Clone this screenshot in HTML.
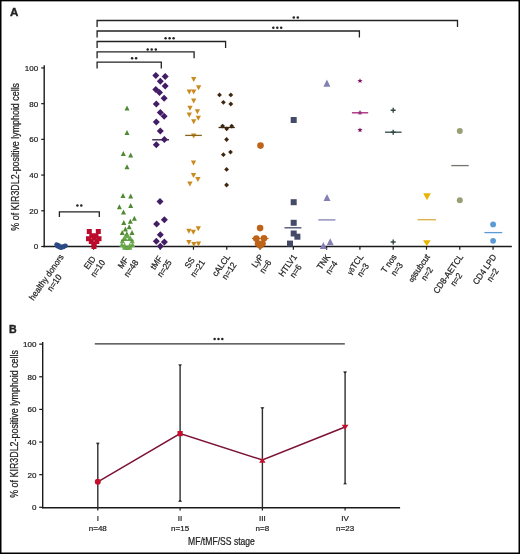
<!DOCTYPE html>
<html><head><meta charset="utf-8"><style>
html,body{margin:0;padding:0;background:#fff;}
svg{display:block;will-change:transform;}
text{font-family:"Liberation Sans",sans-serif;fill:#222;stroke:#222;stroke-width:0.22px;}
</style></head><body>
<svg width="520" height="554" viewBox="0 0 520 554">
<rect x="0" y="0" width="520" height="554" fill="#fff"/>
<path d="M44.2 65.2V247.15" stroke="#1a1a1a" stroke-width="1.4"/>
<path d="M43.5 246.5H511.8" stroke="#1a1a1a" stroke-width="1.4"/>
<path d="M41.2 246.5H44.2" stroke="#1a1a1a" stroke-width="1.2"/>
<text x="38.2" y="249.4" font-size="8" text-anchor="end" >0</text>
<path d="M41.2 210.79H44.2" stroke="#1a1a1a" stroke-width="1.2"/>
<text x="38.2" y="213.69" font-size="8" text-anchor="end" >20</text>
<path d="M41.2 175.08H44.2" stroke="#1a1a1a" stroke-width="1.2"/>
<text x="38.2" y="177.98" font-size="8" text-anchor="end" >40</text>
<path d="M41.2 139.37H44.2" stroke="#1a1a1a" stroke-width="1.2"/>
<text x="38.2" y="142.27" font-size="8" text-anchor="end" >60</text>
<path d="M41.2 103.66H44.2" stroke="#1a1a1a" stroke-width="1.2"/>
<text x="38.2" y="106.56" font-size="8" text-anchor="end" >80</text>
<path d="M41.2 67.95H44.2" stroke="#1a1a1a" stroke-width="1.2"/>
<text x="38.2" y="70.85" font-size="8" text-anchor="end" >100</text>
<text transform="translate(19.1,156.8) rotate(-90) scale(0.89,1)" font-size="10" text-anchor="middle">% of KIR3DL2-positive lymphoid cells</text>
<text x="10.1" y="15.8" font-size="11.6" font-weight="bold" style="stroke-width:0.35px">A</text>
<path d="M60.3 246.5V249.7" stroke="#1a1a1a" stroke-width="1.2"/>
<g transform="translate(58.9,253.2) rotate(-55.0) scale(0.93,1)">
<text x="-28.86" y="6.5" font-size="8.8" text-anchor="middle">healthy donors</text>
<text x="-28.86" y="16.3" font-size="8.8" text-anchor="middle" >n=10</text>
</g>
<path d="M93.59 246.5V249.7" stroke="#1a1a1a" stroke-width="1.2"/>
<g transform="translate(92.19,253.2) rotate(-55.0) scale(0.93,1)">
<text x="-9.91" y="6.5" font-size="8.8" text-anchor="middle">EID</text>
<text x="-9.91" y="16.3" font-size="8.8" text-anchor="middle" >n=10</text>
</g>
<path d="M126.88 246.5V249.7" stroke="#1a1a1a" stroke-width="1.2"/>
<g transform="translate(125.48,253.2) rotate(-55.0) scale(0.93,1)">
<text x="-9.91" y="6.5" font-size="8.8" text-anchor="middle">MF</text>
<text x="-9.91" y="16.3" font-size="8.8" text-anchor="middle" >n=48</text>
</g>
<path d="M160.17 246.5V249.7" stroke="#1a1a1a" stroke-width="1.2"/>
<g transform="translate(158.77,253.2) rotate(-55.0) scale(0.93,1)">
<text x="-9.91" y="6.5" font-size="8.8" text-anchor="middle">tMF</text>
<text x="-9.91" y="16.3" font-size="8.8" text-anchor="middle" >n=25</text>
</g>
<path d="M193.46 246.5V249.7" stroke="#1a1a1a" stroke-width="1.2"/>
<g transform="translate(192.06,253.2) rotate(-55.0) scale(0.93,1)">
<text x="-9.91" y="6.5" font-size="8.8" text-anchor="middle">SS</text>
<text x="-9.91" y="16.3" font-size="8.8" text-anchor="middle" >n=21</text>
</g>
<path d="M226.75 246.5V249.7" stroke="#1a1a1a" stroke-width="1.2"/>
<g transform="translate(225.35,253.2) rotate(-55.0) scale(0.93,1)">
<text x="-13.21" y="6.5" font-size="8.8" text-anchor="middle">cALCL</text>
<text x="-13.21" y="16.3" font-size="8.8" text-anchor="middle" >n=12</text>
</g>
<path d="M260.04 246.5V249.7" stroke="#1a1a1a" stroke-width="1.2"/>
<g transform="translate(258.64,253.2) rotate(-55.0) scale(0.93,1)">
<text x="-7.46" y="6.5" font-size="8.8" text-anchor="middle">LyP</text>
<text x="-7.46" y="16.3" font-size="8.8" text-anchor="middle" >n=6</text>
</g>
<path d="M293.33 246.5V249.7" stroke="#1a1a1a" stroke-width="1.2"/>
<g transform="translate(291.93,253.2) rotate(-55.0) scale(0.93,1)">
<text x="-13.37" y="6.5" font-size="8.8" text-anchor="middle">HTLV1</text>
<text x="-13.37" y="16.3" font-size="8.8" text-anchor="middle" >n=6</text>
</g>
<path d="M326.62 246.5V249.7" stroke="#1a1a1a" stroke-width="1.2"/>
<g transform="translate(325.22,253.2) rotate(-55.0) scale(0.93,1)">
<text x="-8.8" y="6.5" font-size="8.8" text-anchor="middle">TNK</text>
<text x="-8.8" y="16.3" font-size="8.8" text-anchor="middle" >n=4</text>
</g>
<path d="M359.91 246.5V249.7" stroke="#1a1a1a" stroke-width="1.2"/>
<g transform="translate(358.51,253.2) rotate(-55.0) scale(0.93,1)">
<text x="-12.01" y="6.5" font-size="8.8" text-anchor="middle"><tspan font-size="7.0">γδ</tspan>TCL</text>
<text x="-12.01" y="16.3" font-size="8.8" text-anchor="middle" >n=3</text>
</g>
<path d="M393.2 246.5V249.7" stroke="#1a1a1a" stroke-width="1.2"/>
<g transform="translate(391.8,253.2) rotate(-55.0) scale(0.93,1)">
<text x="-10.92" y="6.5" font-size="8.8" text-anchor="middle">T nos</text>
<text x="-10.92" y="16.3" font-size="8.8" text-anchor="middle" >n=3</text>
</g>
<path d="M426.49 246.5V249.7" stroke="#1a1a1a" stroke-width="1.2"/>
<g transform="translate(425.09,253.2) rotate(-55.0) scale(0.93,1)">
<text x="-17" y="6.5" font-size="8.8" text-anchor="middle"><tspan font-size="7.0">αβ</tspan>subcut</text>
<text x="-17" y="16.3" font-size="8.8" text-anchor="middle" >n=2</text>
</g>
<path d="M459.78 246.5V249.7" stroke="#1a1a1a" stroke-width="1.2"/>
<g transform="translate(458.38,253.2) rotate(-55.0) scale(0.93,1)">
<text x="-24.45" y="6.5" font-size="8.8" text-anchor="middle">CD8-AETCL</text>
<text x="-24.45" y="16.3" font-size="8.8" text-anchor="middle" >n=2</text>
</g>
<path d="M493.07 246.5V249.7" stroke="#1a1a1a" stroke-width="1.2"/>
<g transform="translate(491.67,253.2) rotate(-55.0) scale(0.93,1)">
<text x="-18.58" y="6.5" font-size="8.8" text-anchor="middle">CD4 LPD</text>
<text x="-18.58" y="16.3" font-size="8.8" text-anchor="middle" >n=2</text>
</g>
<path d="M97.1 26.9V20.5H457.5V26.9" stroke="#222" stroke-width="1.3" fill="none"/>
<circle cx="293.8" cy="17.4" r="1.25" fill="#222"/>
<circle cx="297.8" cy="17.4" r="1.25" fill="#222"/>
<path d="M97.1 37.4V31H359.4V37.4" stroke="#222" stroke-width="1.3" fill="none"/>
<circle cx="273.3" cy="27.8" r="1.25" fill="#222"/>
<circle cx="277.3" cy="27.8" r="1.25" fill="#222"/>
<circle cx="281.2" cy="27.8" r="1.25" fill="#222"/>
<path d="M97.1 47.9V41.5H225.6V47.9" stroke="#222" stroke-width="1.3" fill="none"/>
<circle cx="165.6" cy="38.3" r="1.25" fill="#222"/>
<circle cx="169.6" cy="38.3" r="1.25" fill="#222"/>
<circle cx="173.6" cy="38.3" r="1.25" fill="#222"/>
<path d="M97.1 58.3V51.9H194.1V58.3" stroke="#222" stroke-width="1.3" fill="none"/>
<circle cx="147.7" cy="49.6" r="1.25" fill="#222"/>
<circle cx="151.7" cy="49.6" r="1.25" fill="#222"/>
<circle cx="155.8" cy="49.6" r="1.25" fill="#222"/>
<path d="M97.1 68.5V62.1H161.3V68.5" stroke="#222" stroke-width="1.3" fill="none"/>
<circle cx="132.1" cy="58.3" r="1.25" fill="#222"/>
<circle cx="136.1" cy="58.3" r="1.25" fill="#222"/>
<path d="M59.4 217V211.8H99.3V217" stroke="#222" stroke-width="1.3" fill="none"/>
<circle cx="77.4" cy="205.6" r="1.25" fill="#222"/>
<circle cx="81.3" cy="205.6" r="1.25" fill="#222"/>
<circle cx="56.6" cy="244.6" r="2.3" fill="#2b4a85"/>
<circle cx="57.5" cy="246.3" r="2.3" fill="#2b4a85"/>
<circle cx="59.5" cy="247.2" r="2.3" fill="#2b4a85"/>
<circle cx="61.5" cy="247.6" r="2.3" fill="#2b4a85"/>
<circle cx="63.5" cy="247" r="2.3" fill="#2b4a85"/>
<circle cx="64.8" cy="246" r="2.3" fill="#2b4a85"/>
<circle cx="65.5" cy="245.8" r="2.3" fill="#2b4a85"/>
<circle cx="58.5" cy="245.2" r="2.3" fill="#2b4a85"/>
<circle cx="60.5" cy="246.8" r="2.3" fill="#2b4a85"/>
<circle cx="62.5" cy="246.5" r="2.3" fill="#2b4a85"/>
<rect x="86.8" y="229" width="5" height="5" fill="#bb0a2c"/>
<rect x="95.8" y="229" width="5" height="5" fill="#bb0a2c"/>
<rect x="89.3" y="233.3" width="5" height="5" fill="#bb0a2c"/>
<rect x="93.5" y="233.3" width="5" height="5" fill="#bb0a2c"/>
<rect x="86" y="236.2" width="5" height="5" fill="#bb0a2c"/>
<rect x="96.5" y="236.2" width="5" height="5" fill="#bb0a2c"/>
<rect x="88.8" y="239" width="5" height="5" fill="#bb0a2c"/>
<rect x="94.3" y="239" width="5" height="5" fill="#bb0a2c"/>
<rect x="91.5" y="235.3" width="5" height="5" fill="#bb0a2c"/>
<rect x="91.5" y="241.7" width="5" height="5" fill="#bb0a2c"/>
<rect x="91.5" y="244" width="5" height="5" fill="#bb0a2c"/>
<path d="M127 105.5L129.5 110.5L124.5 110.5Z" fill="#4f8a32"/>
<path d="M127 130L129.5 135L124.5 135Z" fill="#4f8a32"/>
<path d="M123.3 151L125.8 156L120.8 156Z" fill="#4f8a32"/>
<path d="M130.7 152.5L133.2 157.5L128.2 157.5Z" fill="#4f8a32"/>
<path d="M127 164.3L129.5 169.3L124.5 169.3Z" fill="#4f8a32"/>
<path d="M123 192.9L125.5 197.9L120.5 197.9Z" fill="#4f8a32"/>
<path d="M130.7 193.6L133.2 198.6L128.2 198.6Z" fill="#4f8a32"/>
<path d="M119.4 204.3L121.9 209.3L116.9 209.3Z" fill="#4f8a32"/>
<path d="M130.7 203L133.2 208L128.2 208Z" fill="#4f8a32"/>
<path d="M123.5 209.5L126 214.5L121 214.5Z" fill="#4f8a32"/>
<path d="M134.4 215.7L136.9 220.7L131.9 220.7Z" fill="#4f8a32"/>
<path d="M123.8 220.1L126.3 225.1L121.3 225.1Z" fill="#4f8a32"/>
<path d="M130.3 218.8L132.8 223.8L127.8 223.8Z" fill="#4f8a32"/>
<path d="M129.2 224.2L131.7 229.2L126.7 229.2Z" fill="#4f8a32"/>
<path d="M125.4 226.6L127.9 231.6L122.9 231.6Z" fill="#4f8a32"/>
<path d="M122.2 229.9L124.7 234.9L119.7 234.9Z" fill="#4f8a32"/>
<path d="M132 229.9L134.5 234.9L129.5 234.9Z" fill="#4f8a32"/>
<path d="M126.8 231.3L129.3 236.3L124.3 236.3Z" fill="#4f8a32"/>
<path d="M124.5 235.1L127.1 240.1L121.9 240.1Z" fill="#67a847"/>
<path d="M130 235.1L132.6 240.1L127.4 240.1Z" fill="#67a847"/>
<path d="M127.2 233.3L129.8 238.3L124.6 238.3Z" fill="#67a847"/>
<path d="M122.4 238.3L125 243.3L119.8 243.3Z" fill="#67a847"/>
<path d="M121.9 242.1L124.5 247.1L119.3 247.1Z" fill="#67a847"/>
<path d="M132.1 238.3L134.7 243.3L129.5 243.3Z" fill="#67a847"/>
<path d="M132.5 242.1L135.1 247.1L129.9 247.1Z" fill="#67a847"/>
<path d="M124.6 244.7L127.2 249.7L122 249.7Z" fill="#67a847"/>
<path d="M129.8 244.7L132.4 249.7L127.2 249.7Z" fill="#67a847"/>
<path d="M127.2 244.9L129.8 249.9L124.6 249.9Z" fill="#67a847"/>
<path d="M124.6 242.7L127.2 247.7L122 247.7Z" fill="#67a847"/>
<path d="M129.8 242.7L132.4 247.7L127.2 247.7Z" fill="#67a847"/>
<path d="M121 240.3H133.5" stroke="#4f8a32" stroke-width="1.1"/>
<path d="M152.2 139.8H169" stroke="#2b1640" stroke-width="1.3"/>
<path d="M155.8 72.1L159.3 75.6L155.8 79.1L152.3 75.6Z" fill="#431c66"/>
<path d="M165.2 72.9L168.7 76.4L165.2 79.9L161.7 76.4Z" fill="#431c66"/>
<path d="M160.3 77.8L163.8 81.3L160.3 84.8L156.8 81.3Z" fill="#431c66"/>
<path d="M165.2 82.6L168.7 86.1L165.2 89.6L161.7 86.1Z" fill="#431c66"/>
<path d="M155.8 85.9L159.3 89.4L155.8 92.9L152.3 89.4Z" fill="#431c66"/>
<path d="M159.5 89.1L163 92.6L159.5 96.1L156 92.6Z" fill="#431c66"/>
<path d="M164.1 94.8L167.6 98.3L164.1 101.8L160.6 98.3Z" fill="#431c66"/>
<path d="M156.3 100.5L159.8 104L156.3 107.5L152.8 104Z" fill="#431c66"/>
<path d="M160.3 109L163.8 112.5L160.3 116L156.8 112.5Z" fill="#431c66"/>
<path d="M164.1 112.7L167.6 116.2L164.1 119.7L160.6 116.2Z" fill="#431c66"/>
<path d="M156.3 118.4L159.8 121.9L156.3 125.4L152.8 121.9Z" fill="#431c66"/>
<path d="M160.3 127.4L163.8 130.9L160.3 134.4L156.8 130.9Z" fill="#431c66"/>
<path d="M164.4 136L167.9 139.5L164.4 143L160.9 139.5Z" fill="#431c66"/>
<path d="M156.3 141.2L159.8 144.7L156.3 148.2L152.8 144.7Z" fill="#431c66"/>
<path d="M160 198L163.5 201.5L160 205L156.5 201.5Z" fill="#431c66"/>
<path d="M164.4 216.3L167.9 219.8L164.4 223.3L160.9 219.8Z" fill="#431c66"/>
<path d="M156.6 220.4L160.1 223.9L156.6 227.4L153.1 223.9Z" fill="#431c66"/>
<path d="M160.3 231.3L163.8 234.8L160.3 238.3L156.8 234.8Z" fill="#431c66"/>
<path d="M156.3 237.8L159.8 241.3L156.3 244.8L152.8 241.3Z" fill="#431c66"/>
<path d="M164.4 238.6L167.9 242.1L164.4 245.6L160.9 242.1Z" fill="#431c66"/>
<path d="M160.3 242.7L163.8 246.2L160.3 249.7L156.8 246.2Z" fill="#431c66"/>
<path d="M191.05 77L196.35 77L193.7 82Z" fill="#c98b1f"/>
<path d="M195.95 85.2L201.25 85.2L198.6 90.2Z" fill="#c98b1f"/>
<path d="M186.65 89.5L191.95 89.5L189.3 94.5Z" fill="#c98b1f"/>
<path d="M191.05 89.5L196.35 89.5L193.7 94.5Z" fill="#c98b1f"/>
<path d="M191.05 98.6L196.35 98.6L193.7 103.6Z" fill="#c98b1f"/>
<path d="M187.35 105.8L192.65 105.8L190 110.8Z" fill="#c98b1f"/>
<path d="M194.75 109.2L200.05 109.2L197.4 114.2Z" fill="#c98b1f"/>
<path d="M186.65 112.5L191.95 112.5L189.3 117.5Z" fill="#c98b1f"/>
<path d="M195.65 115.7L200.95 115.7L198.3 120.7Z" fill="#c98b1f"/>
<path d="M191.05 119.3L196.35 119.3L193.7 124.3Z" fill="#c98b1f"/>
<path d="M191.05 133.4L196.35 133.4L193.7 138.4Z" fill="#c98b1f"/>
<path d="M190.85 160.5L196.15 160.5L193.5 165.5Z" fill="#c98b1f"/>
<path d="M190.85 173L196.15 173L193.5 178Z" fill="#c98b1f"/>
<path d="M195.25 177L200.55 177L197.9 182Z" fill="#c98b1f"/>
<path d="M187.25 181.5L192.55 181.5L189.9 186.5Z" fill="#c98b1f"/>
<path d="M186.25 228.7L191.55 228.7L188.9 233.7Z" fill="#c98b1f"/>
<path d="M190.65 229.7L195.95 229.7L193.3 234.7Z" fill="#c98b1f"/>
<path d="M195.65 226.3L200.95 226.3L198.3 231.3Z" fill="#c98b1f"/>
<path d="M186.25 240L191.55 240L188.9 245Z" fill="#c98b1f"/>
<path d="M191.25 242L196.55 242L193.9 247Z" fill="#c98b1f"/>
<path d="M195.85 241.6L201.15 241.6L198.5 246.6Z" fill="#c98b1f"/>
<path d="M185.2 135.4H201.8" stroke="#8a6418" stroke-width="1.3"/>
<path d="M219.5 92.5L221.9 94.9L219.5 97.3L217.1 94.9Z" fill="#3d2710"/>
<path d="M230.8 92.5L233.2 94.9L230.8 97.3L228.4 94.9Z" fill="#3d2710"/>
<path d="M223.4 99.9L225.8 102.3L223.4 104.7L221 102.3Z" fill="#3d2710"/>
<path d="M230.8 101.6L233.2 104L230.8 106.4L228.4 104Z" fill="#3d2710"/>
<path d="M222.6 123.7L225 126.1L222.6 128.5L220.2 126.1Z" fill="#3d2710"/>
<path d="M226.7 126.4L229.1 128.8L226.7 131.2L224.3 128.8Z" fill="#3d2710"/>
<path d="M231.7 123.7L234.1 126.1L231.7 128.5L229.3 126.1Z" fill="#3d2710"/>
<path d="M226.6 137.1L229 139.5L226.6 141.9L224.2 139.5Z" fill="#3d2710"/>
<path d="M223.4 152.3L225.8 154.7L223.4 157.1L221 154.7Z" fill="#3d2710"/>
<path d="M230.5 149.7L232.9 152.1L230.5 154.5L228.1 152.1Z" fill="#3d2710"/>
<path d="M226.6 167L229 169.4L226.6 171.8L224.2 169.4Z" fill="#3d2710"/>
<path d="M226.6 182.6L229 185L226.6 187.4L224.2 185Z" fill="#3d2710"/>
<path d="M218.6 127.5H234.8" stroke="#3d2710" stroke-width="1.3"/>
<circle cx="260.5" cy="145.6" r="3.3" fill="#bd6418"/>
<circle cx="260.1" cy="228.1" r="3.3" fill="#bd6418"/>
<circle cx="256.3" cy="238.5" r="3.3" fill="#bd6418"/>
<circle cx="264" cy="238.3" r="3.3" fill="#bd6418"/>
<circle cx="258" cy="243.5" r="3.3" fill="#bd6418"/>
<circle cx="262.5" cy="243.5" r="3.3" fill="#bd6418"/>
<circle cx="260.2" cy="245.6" r="3.3" fill="#bd6418"/>
<path d="M252 238.5H268.5" stroke="#bd6418" stroke-width="1.3"/>
<rect x="290.7" y="117" width="6" height="6" fill="#434b66"/>
<rect x="290.7" y="199.2" width="6" height="6" fill="#434b66"/>
<rect x="290.7" y="219.8" width="6" height="6" fill="#434b66"/>
<rect x="290.7" y="230.5" width="6" height="6" fill="#434b66"/>
<rect x="294.4" y="233.7" width="6" height="6" fill="#434b66"/>
<rect x="287" y="240.6" width="6" height="6" fill="#434b66"/>
<path d="M284.5 227.8H301.4" stroke="#434b66" stroke-width="1.3"/>
<path d="M326.9 79.6L330.4 86.8L323.4 86.8Z" fill="#8480b6"/>
<path d="M327 193.9L330.5 200.9L323.5 200.9Z" fill="#8480b6"/>
<path d="M330.2 238.2L333.7 245.2L326.7 245.2Z" fill="#8480b6"/>
<path d="M323.4 242L326.9 249L319.9 249Z" fill="#8480b6"/>
<path d="M318.3 219.9H335.4" stroke="#8480b6" stroke-width="1.3"/>
<path d="M360 78.2L360.71 79.92L362.57 80.07L361.16 81.28L361.59 83.08L360 82.12L358.41 83.08L358.84 81.28L357.43 80.07L359.29 79.92Z" fill="#7e1664"/>
<path d="M360 110.1L360.71 111.82L362.57 111.97L361.16 113.18L361.59 114.98L360 114.02L358.41 114.98L358.84 113.18L357.43 111.97L359.29 111.82Z" fill="#7e1664"/>
<path d="M360 127.4L360.71 129.12L362.57 129.27L361.16 130.48L361.59 132.28L360 131.31L358.41 132.28L358.84 130.48L357.43 129.27L359.29 129.12Z" fill="#7e1664"/>
<path d="M351.9 112.8H368.2" stroke="#a8307f" stroke-width="1.4"/>
<path d="M390.7 110.3H395.7M393.2 107.8V112.8" stroke="#2f4a45" stroke-width="1.4" fill="none"/>
<path d="M390.7 132.2H395.7M393.2 129.7V134.7" stroke="#2f4a45" stroke-width="1.4" fill="none"/>
<path d="M390.7 242H395.7M393.2 239.5V244.5" stroke="#2f4a45" stroke-width="1.4" fill="none"/>
<path d="M385 132.2H401.6" stroke="#2f4a45" stroke-width="1.3"/>
<path d="M423.2 193.2L430.8 193.2L427 200.2Z" fill="#e8b400"/>
<path d="M423 240.3L430.6 240.3L426.8 246.2Z" fill="#e8b400"/>
<path d="M417.6 219.7H435.9" stroke="#d8b040" stroke-width="1.3"/>
<circle cx="459.8" cy="130.9" r="3" fill="#9a9e74"/>
<circle cx="459.8" cy="200.2" r="3" fill="#9a9e74"/>
<path d="M451.3 165.6H468.7" stroke="#74746a" stroke-width="1.3"/>
<circle cx="493.1" cy="224.4" r="2.9" fill="#5b9bd5"/>
<circle cx="493.1" cy="240.8" r="2.9" fill="#5b9bd5"/>
<path d="M484.4 232.6H502.2" stroke="#5b9bd5" stroke-width="1.3"/>
<text x="9.1" y="333.2" font-size="10.6" font-weight="bold" style="stroke-width:0.35px">B</text>
<path d="M42.7 341.9V508.35" stroke="#1a1a1a" stroke-width="1.4"/>
<path d="M42 507.7H400.1" stroke="#1a1a1a" stroke-width="1.5"/>
<path d="M39.2 507.3H42.7" stroke="#1a1a1a" stroke-width="1.2"/>
<text x="36.4" y="510.2" font-size="8" text-anchor="end" >0</text>
<path d="M39.2 474.67H42.7" stroke="#1a1a1a" stroke-width="1.2"/>
<text x="36.4" y="477.57" font-size="8" text-anchor="end" >20</text>
<path d="M39.2 442.04H42.7" stroke="#1a1a1a" stroke-width="1.2"/>
<text x="36.4" y="444.94" font-size="8" text-anchor="end" >40</text>
<path d="M39.2 409.41H42.7" stroke="#1a1a1a" stroke-width="1.2"/>
<text x="36.4" y="412.31" font-size="8" text-anchor="end" >60</text>
<path d="M39.2 376.78H42.7" stroke="#1a1a1a" stroke-width="1.2"/>
<text x="36.4" y="379.68" font-size="8" text-anchor="end" >80</text>
<path d="M39.2 344.15H42.7" stroke="#1a1a1a" stroke-width="1.2"/>
<text x="36.4" y="347.05" font-size="8" text-anchor="end" >100</text>
<text transform="translate(17.5,423.9) rotate(-90) scale(0.89,1)" font-size="10" text-anchor="middle">% of KIR3DL2-positive lymphoid cells</text>
<path d="M97.8 507.7V510.6" stroke="#1a1a1a" stroke-width="1.2"/>
<text x="97.8" y="520.8" font-size="8" text-anchor="middle" >I</text>
<text x="97.8" y="531.2" font-size="8" text-anchor="middle" >n=48</text>
<path d="M180.1 507.7V510.6" stroke="#1a1a1a" stroke-width="1.2"/>
<text x="180.1" y="520.8" font-size="8" text-anchor="middle" >II</text>
<text x="180.1" y="531.2" font-size="8" text-anchor="middle" >n=15</text>
<path d="M262.4 507.7V510.6" stroke="#1a1a1a" stroke-width="1.2"/>
<text x="262.4" y="520.8" font-size="8" text-anchor="middle" >III</text>
<text x="262.4" y="531.2" font-size="8" text-anchor="middle" >n=8</text>
<path d="M345.1 507.7V510.6" stroke="#1a1a1a" stroke-width="1.2"/>
<text x="345.1" y="520.8" font-size="8" text-anchor="middle" >IV</text>
<text x="345.1" y="531.2" font-size="8" text-anchor="middle" >n=23</text>
<text x="221.5" y="545" font-size="10" text-anchor="middle" transform="translate(221.5,0) scale(0.86,1) translate(-221.5,0)">MF/tMF/SS stage</text>
<path d="M94.8 343.9H344.8" stroke="#333" stroke-width="1.3"/>
<circle cx="214.6" cy="339.1" r="1.25" fill="#222"/>
<circle cx="218.5" cy="339.1" r="1.25" fill="#222"/>
<circle cx="222.3" cy="339.1" r="1.25" fill="#222"/>
<path d="M97.8 442.8V507.7" stroke="#2e2e2e" stroke-width="1.4"/>
<path d="M95.8 442.8H99.8L98.5 444.4H97.1Z" fill="#2e2e2e"/>
<path d="M180.1 364.5V501.7" stroke="#2e2e2e" stroke-width="1.4"/>
<path d="M178.1 364.5H182.1L180.8 366.1H179.4Z" fill="#2e2e2e"/>
<path d="M178.1 501.7H182.1L180.8 500.1H179.4Z" fill="#2e2e2e"/>
<path d="M262.4 407.3V507.7" stroke="#2e2e2e" stroke-width="1.4"/>
<path d="M260.4 407.3H264.4L263.1 408.9H261.7Z" fill="#2e2e2e"/>
<path d="M345.1 371.6V484.3" stroke="#2e2e2e" stroke-width="1.4"/>
<path d="M343.1 371.6H347.1L345.8 373.2H344.4Z" fill="#2e2e2e"/>
<path d="M343.1 484.3H347.1L345.8 482.7H344.4Z" fill="#2e2e2e"/>
<path d="M97.8 481.8L180.1 433.6L262.4 460L345.1 427" stroke="#7c1134" stroke-width="1.5" fill="none"/>
<circle cx="97.8" cy="481.8" r="3" fill="#c4102e"/>
<rect x="177.5" y="431" width="5.2" height="5.2" fill="#c4102e"/>
<path d="M262.4 457.5L265.6 462.7L259.2 462.7Z" fill="#c4102e"/>
<path d="M341.7 424.7L348.5 424.7L345.1 429.7Z" fill="#c4102e"/>
<rect x="0" y="0" width="1.5" height="554" fill="#000"/>
<rect x="0" y="0" width="520" height="1.35" fill="#000"/>
<rect x="518.5" y="0" width="1.5" height="554" fill="#000"/>
<rect x="0" y="552.5" width="520" height="1.5" fill="#000"/>
</svg>
</body></html>
